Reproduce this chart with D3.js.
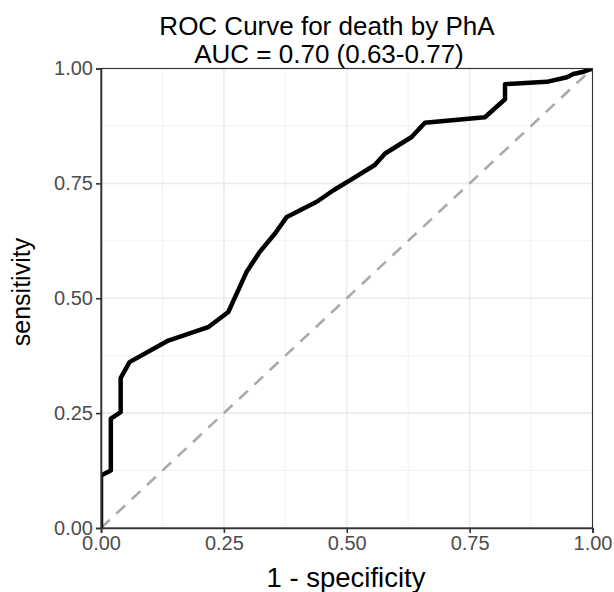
<!DOCTYPE html>
<html>
<head>
<meta charset="utf-8">
<script src="https://cdn.jsdelivr.net/npm/d3@7"></script>
<style>
  html, body { margin: 0; padding: 0; background: #fff; }
  svg { display: block; font-family: "Liberation Sans", Arial, Helvetica, sans-serif; }
</style>
</head>
<body>
<svg id="chart" width="614" height="592"></svg>
<script>
// ROC curve points
const fpr = [0, 0, 0.02, 0.02, 0.04, 0.04, 0.058, 0.137, 0.218, 0.259, 0.296, 0.323, 0.354, 0.378, 0.395, 0.439, 0.473, 0.513, 0.557, 0.578, 0.605, 0.632, 0.659, 0.781, 0.822, 0.822, 0.907, 0.948, 0.961, 0.982, 1];
const tpr = [0, 0.114, 0.125, 0.238, 0.252, 0.326, 0.361, 0.408, 0.437, 0.470, 0.557, 0.601, 0.641, 0.677, 0.686, 0.710, 0.735, 0.761, 0.790, 0.815, 0.833, 0.851, 0.882, 0.894, 0.933, 0.966, 0.971, 0.981, 0.988, 0.993, 1];
const majorTicks = [0, 0.25, 0.5, 0.75, 1];
const minorTicks = [0.125, 0.375, 0.625, 0.875];
const tickLabels = ["0.00", "0.25", "0.50", "0.75", "1.00"];
const titleLines = ["ROC Curve for death by PhA", "AUC = 0.70 (0.63-0.77)"];
const xTitle = "1 - specificity";
const yTitle = "sensitivity";

const svg = d3.select("#chart");
const pLeft = 101, pRight = 592.5, pTop = 68.5, pBottom = 528;
const x = d3.scaleLinear().domain([0, 1]).range([pLeft, pRight]);
const y = d3.scaleLinear().domain([0, 1]).range([pBottom, pTop]);

svg.append("rect").attr("width", 614).attr("height", 592).attr("fill", "#fff");

svg.append("defs").append("clipPath").attr("id", "panel")
  .append("rect").attr("x", pLeft).attr("y", pTop)
  .attr("width", pRight - pLeft).attr("height", pBottom - pTop);

const grid = svg.append("g");
grid.selectAll(".mx").data(minorTicks).join("line")
  .attr("x1", d => x(d)).attr("x2", d => x(d)).attr("y1", pTop).attr("y2", pBottom)
  .attr("stroke", "#F2F2F2").attr("stroke-width", 1);
grid.selectAll(".my").data(minorTicks).join("line")
  .attr("y1", d => y(d)).attr("y2", d => y(d)).attr("x1", pLeft).attr("x2", pRight)
  .attr("stroke", "#F2F2F2").attr("stroke-width", 1);
grid.selectAll(".gx").data(majorTicks).join("line")
  .attr("x1", d => x(d)).attr("x2", d => x(d)).attr("y1", pTop).attr("y2", pBottom)
  .attr("stroke", "#EBEBEB").attr("stroke-width", 1.6);
grid.selectAll(".gy").data(majorTicks).join("line")
  .attr("y1", d => y(d)).attr("y2", d => y(d)).attr("x1", pLeft).attr("x2", pRight)
  .attr("stroke", "#EBEBEB").attr("stroke-width", 1.6);

const plot = svg.append("g").attr("clip-path", "url(#panel)");

plot.append("line")
  .attr("x1", x(0)).attr("y1", y(0)).attr("x2", x(1)).attr("y2", y(1))
  .attr("stroke", "#AAAAAA").attr("stroke-width", 2.6)
  .attr("stroke-dasharray", "12,9");

const pts = fpr.map((v, i) => [v, tpr[i]]);
plot.append("path")
  .attr("d", d3.line().x(d => x(d[0])).y(d => y(d[1]))(pts))
  .attr("fill", "none").attr("stroke", "#000").attr("stroke-width", 4.5)
  .attr("stroke-linejoin", "round");

svg.append("rect").attr("x", pLeft).attr("y", pTop)
  .attr("width", pRight - pLeft).attr("height", pBottom - pTop)
  .attr("fill", "none").attr("stroke", "#333").attr("stroke-width", 1.1);

const fmt = (d, i) => tickLabels[i];
const xAxis = svg.append("g").attr("transform", `translate(0,${pBottom})`)
  .call(d3.axisBottom(x).tickValues(majorTicks).tickFormat(fmt).tickSize(5).tickPadding(3));
const yAxis = svg.append("g").attr("transform", `translate(${pLeft},0)`)
  .call(d3.axisLeft(y).tickValues(majorTicks).tickFormat(fmt).tickSize(5).tickPadding(3));
[xAxis, yAxis].forEach(a => {
  a.select(".domain").attr("stroke", "#333").attr("stroke-width", 1.6);
  a.selectAll(".tick line").attr("stroke", "#333").attr("stroke-width", 1.6);
  a.selectAll(".tick text").attr("fill", "#4D4D4D").attr("font-size", 20)
    .attr("font-family", "Liberation Sans, Arial, sans-serif");
});
xAxis.selectAll(".tick text").attr("dy", "0.72em");

svg.append("text").attr("x", 327).attr("y", 35).attr("text-anchor", "middle")
  .attr("font-size", 26).attr("fill", "#000").text(titleLines[0]);
svg.append("text").attr("x", 329).attr("y", 63).attr("text-anchor", "middle")
  .attr("font-size", 26).attr("fill", "#000").text(titleLines[1]);

svg.append("text").attr("x", 346).attr("y", 587).attr("text-anchor", "middle")
  .attr("font-size", 27.5).attr("fill", "#000").text(xTitle);
svg.append("text").attr("transform", "translate(30,292) rotate(-90)")
  .attr("text-anchor", "middle").attr("font-size", 25).attr("fill", "#000").text(yTitle);
</script>
</body>
</html>
